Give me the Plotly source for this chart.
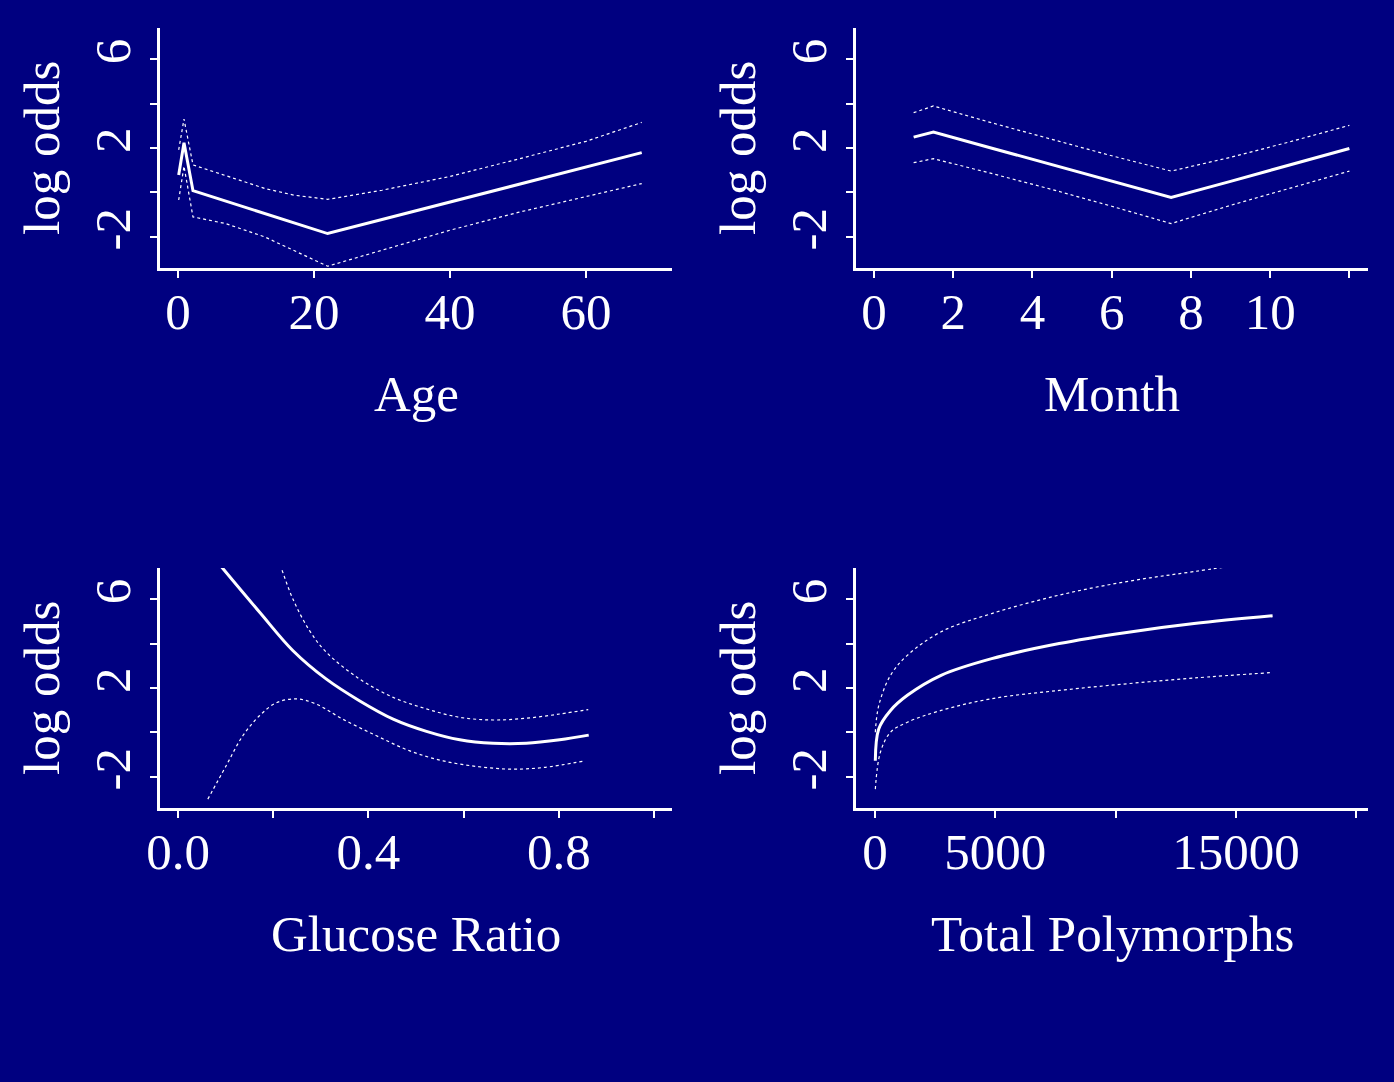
import plotly.graph_objects as go

# ---------------- data ----------------
# Panel 1: Age
age_x = [0.1, 0.88, 2.2, 7, 12.75, 17, 22, 30, 40, 50, 60, 68.2]
age_fit = [0.79, 2.24, 0.08, -0.39, -0.95, -1.36, -1.85, -1.22, -0.43, 0.36, 1.14, 1.79]
age_upper = [1.92, 3.30, 1.24, 0.75, 0.18, -0.12, -0.31, 0.10, 0.72, 1.50, 2.30, 3.15]
age_lower = [-0.34, 1.18, -1.10, -1.40, -2.00, -2.60, -3.32, -2.60, -1.70, -0.90, -0.20, 0.40]

# Panel 2: Month
month_x = [1, 1.5, 3, 4.5, 6, 7.5, 9, 10.5, 12]
month_fit = [2.49, 2.72, 1.98, 1.25, 0.51, -0.23, 0.50, 1.24, 1.98]
month_upper = [3.59, 3.89, 3.12, 2.37, 1.65, 0.96, 1.58, 2.28, 3.02]
month_lower = [1.34, 1.52, 0.84, 0.13, -0.62, -1.40, -0.58, 0.20, 0.96]

# Panel 3: Glucose Ratio
gluc_fit_x = [0.0625, 0.087, 0.171, 0.241, 0.311, 0.381, 0.452, 0.522, 0.592, 0.662, 0.732, 0.802, 0.863]
gluc_fit = [8.2, 7.56, 5.42, 3.69, 2.41, 1.43, 0.60, 0.05, -0.33, -0.49, -0.49, -0.33, -0.12]
gluc_upper_x = [0.20, 0.215, 0.241, 0.276, 0.311, 0.381, 0.452, 0.522, 0.592, 0.662, 0.732, 0.802, 0.862]
gluc_upper = [8.3, 7.5, 6.02, 4.59, 3.62, 2.41, 1.58, 1.06, 0.68, 0.56, 0.64, 0.83, 1.03]
gluc_lower_x = [0.0625, 0.101, 0.136, 0.171, 0.206, 0.248, 0.29, 0.346, 0.417, 0.487, 0.557, 0.627, 0.697, 0.767, 0.855]
gluc_lower = [-3.0, -1.50, -0.15, 0.75, 1.33, 1.51, 1.28, 0.60, -0.15, -0.83, -1.28, -1.53, -1.65, -1.58, -1.28]

# Panel 4: Total Polymorphs
poly_x = [13, 155, 645, 1345, 2747, 4850, 7655, 10460, 13260, 16525]
poly_fit = [-1.27, 0.16, 0.99, 1.67, 2.57, 3.32, 4.00, 4.50, 4.90, 5.25]
poly_upper = [0.01, 1.21, 2.57, 3.47, 4.53, 5.35, 6.18, 6.79, 7.24, 7.75]
poly_lower_x = [13, 224, 645, 1345, 2747, 4850, 7655, 10460, 13260, 16410]
poly_lower = [-2.55, -0.89, 0.01, 0.46, 0.99, 1.52, 1.89, 2.19, 2.45, 2.69]

# tick labels
age_ticks = [0, 20, 40, 60]
age_ticktext = ["0", "20", "40", "60"]
month_ticks = [0, 2, 4, 6, 8, 10, 12]
month_ticktext = ["0", "2", "4", "6", "8", "10", ""]
gluc_ticks = [0.0, 0.2, 0.4, 0.6, 0.8, 1.0]
gluc_ticktext = ["0.0", "", "0.4", "", "0.8", ""]
poly_ticks = [0, 5000, 10000, 15000, 20000]
poly_ticktext = ["0", "5000", "", "15000", ""]
y_ticks = [-2, 0, 2, 4, 6]
y_ticktext = ["-2", "", "2", "", "6"]

x_titles = ["Age", "Month", "Glucose Ratio", "Total Polymorphs"]
y_title = "log odds"

# ---------------- figure ----------------
W, H = 1394, 1082
BG = "#000080"
FONT = "Liberation Serif"
FS = 51

fig = go.Figure()

panels = [
    (age_x, age_fit, age_x, age_upper, age_x, age_lower, "linear"),
    (month_x, month_fit, month_x, month_upper, month_x, month_lower, "linear"),
    (gluc_fit_x, gluc_fit, gluc_upper_x, gluc_upper, gluc_lower_x, gluc_lower, "spline"),
    (poly_x, poly_fit, poly_x, poly_upper, poly_lower_x, poly_lower, "spline"),
]

for i, (fx, fy, ux, uy, lx, ly, shape) in enumerate(panels):
    xa = "x" if i == 0 else f"x{i+1}"
    ya = "y" if i == 0 else f"y{i+1}"
    fig.add_trace(go.Scatter(x=fx, y=fy, mode="lines", xaxis=xa, yaxis=ya,
                             line=dict(color="white", width=3, shape=shape), showlegend=False))
    fig.add_trace(go.Scatter(x=ux, y=uy, mode="lines", xaxis=xa, yaxis=ya,
                             line=dict(color="white", width=1.2, dash="3px,3px", shape=shape),
                             showlegend=False))
    fig.add_trace(go.Scatter(x=lx, y=ly, mode="lines", xaxis=xa, yaxis=ya,
                             line=dict(color="white", width=1.2, dash="3px,3px", shape=shape),
                             showlegend=False))

# pixel geometry of plot regions
cols = [(160, 672), (856, 1368)]
rows = [(28, 268), (568, 808)]
xranges = [[-2.65, 72.65], [-0.455, 12.47], [-0.038, 1.038], [-790, 20490]]
xticks = [(age_ticks, age_ticktext), (month_ticks, month_ticktext),
          (gluc_ticks, gluc_ticktext), (poly_ticks, poly_ticktext)]

axis_common = dict(showline=True, linecolor="white", linewidth=2.5, ticks="outside",
                   ticklen=7, tickwidth=2, tickcolor="white", showgrid=False,
                   zeroline=False, fixedrange=True, automargin=False,
                   tickfont=dict(family=FONT, size=FS, color="white"))

annotations = []
for i in range(4):
    c0, c1 = cols[i % 2]
    r0, r1 = rows[i // 2]
    xd = [c0 / W, c1 / W]
    yd = [1 - r1 / H, 1 - r0 / H]
    xkey = "xaxis" if i == 0 else f"xaxis{i+1}"
    ykey = "yaxis" if i == 0 else f"yaxis{i+1}"
    yname = "y" if i == 0 else f"y{i+1}"
    xname = "x" if i == 0 else f"x{i+1}"
    fig.layout[xkey] = dict(domain=xd, anchor=yname, range=xranges[i],
                            tickmode="array", tickvals=xticks[i][0], ticktext=xticks[i][1],
                            ticklabelstandoff=-10, **axis_common)
    fig.layout[ykey] = dict(domain=yd, anchor=xname, range=[-3.4, 7.4],
                            tickmode="array", tickvals=y_ticks, ticktext=y_ticktext,
                            tickangle=-90, **axis_common)
    # x title
    annotations.append(dict(text=x_titles[i], xref="paper", yref="paper",
                            x=(c0 + c1) / 2 / W, y=1 - (r1 + 126) / H,
                            xanchor="center", yanchor="middle", showarrow=False,
                            font=dict(family=FONT, size=FS, color="white")))
    # y title
    annotations.append(dict(text=y_title, xref="paper", yref="paper",
                            x=(c0 - 118) / W, y=1 - ((r0 + r1) / 2) / H,
                            xanchor="center", yanchor="middle", textangle=-90,
                            showarrow=False,
                            font=dict(family=FONT, size=FS, color="white")))

fig.update_layout(width=W, height=H, margin=dict(l=0, r=0, t=0, b=0, autoexpand=False),
                  paper_bgcolor=BG, plot_bgcolor=BG, annotations=annotations,
                  showlegend=False)

fig.write_html("out.html", config={"displayModeBar": False},
               post_script="document.body.style.margin='0';")
